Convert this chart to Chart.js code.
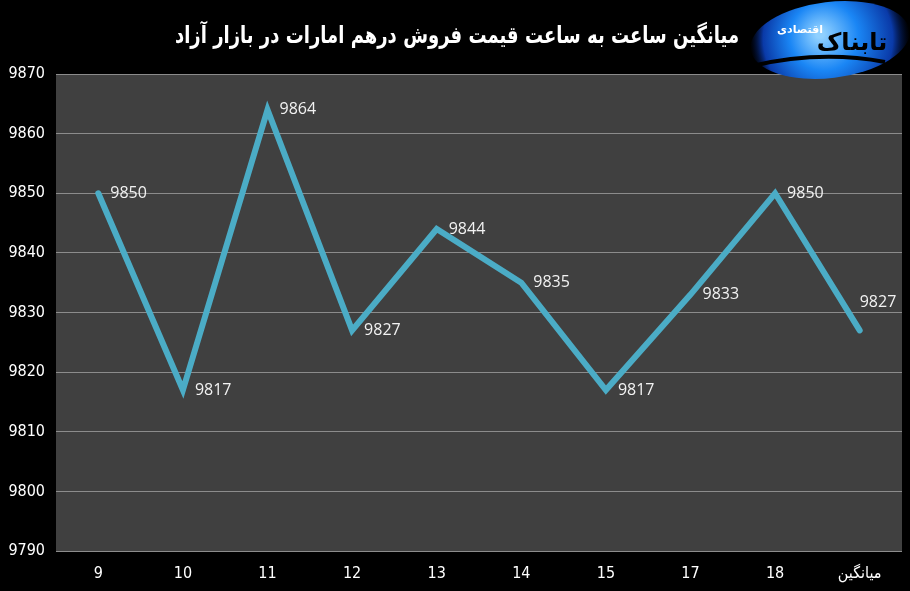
<!DOCTYPE html>
<html>
<head>
<meta charset="utf-8">
<script src="https://cdn.jsdelivr.net/npm/chart.js@4/dist/chart.umd.min.js"></script>
<style>
  html, body { margin: 0; padding: 0; background: #000; }
  #wrap { width: 910px; height: 591px; }
</style>
</head>
<body>
<div id="wrap"><canvas id="graph_dirham"></canvas></div>
<script>
// داده ها
const saat = ['9', '10', '11', '12', '13', '14', '15', '17', '18', 'میانگین'];
const gheymat = [9850, 9817, 9864, 9827, 9844, 9835, 9817, 9833, 9850, 9827];
const tick_min = 9790;
const tick_max = 9870;
const tick_step = 10;
const onvan = 'میانگین ساعت به ساعت قیمت فروش درهم امارات در بازار آزاد';

const fontNarrow = "'DejaVu Sans Condensed', 'Liberation Sans Narrow', sans-serif";

// زمینه خاکستری ناحیه نمودار
const zamine = {
  id: 'zamine',
  beforeDraw(chart) {
    const { ctx, chartArea: a } = chart;
    ctx.save();
    ctx.fillStyle = '#404040';
    ctx.fillRect(a.left, a.top, a.right - a.left, a.bottom - a.top);
    ctx.restore();
  }
};

// برچسب مقدارها کنار نقطه ها
const barchasb = {
  id: 'barchasb',
  afterDatasetsDraw(chart) {
    const ctx = chart.ctx;
    const meta = chart.getDatasetMeta(0);
    ctx.save();
    ctx.font = "16px 'Open Sans', 'Noto Sans', sans-serif";
    ctx.fillStyle = '#f2f2f2';
    ctx.textAlign = 'left';
    ctx.textBaseline = 'middle';
    meta.data.forEach((p, i) => {
      if (i === meta.data.length - 1) {
        // آخری بالای نقطه
        ctx.fillText(String(gheymat[i]), p.x, p.y - 28);
      } else {
        ctx.fillText(String(gheymat[i]), p.x + 12, p.y);
      }
    });
    ctx.restore();
  }
};

// عنوان و لوگو
const sarbarg = {
  id: 'sarbarg',
  afterDraw(chart) {
    const ctx = chart.ctx;
    ctx.save();
    // لوگو
    const cx = 830, cy = 40;
    const g = ctx.createRadialGradient(cx - 10, cy - 6, 4, cx, cy, 80);
    g.addColorStop(0, '#8fd0ff');
    g.addColorStop(0.4, '#1a86f5');
    g.addColorStop(0.8, '#0a3aa8');
    g.addColorStop(1, 'rgba(0,20,80,0)');
    ctx.fillStyle = g;
    ctx.beginPath();
    ctx.ellipse(cx, cy, 80, 38, -0.12, 0, Math.PI * 2);
    ctx.fill();
    ctx.strokeStyle = '#000';
    ctx.lineWidth = 4;
    ctx.beginPath();
    ctx.moveTo(752, 66);
    ctx.quadraticCurveTo(820, 50, 885, 62);
    ctx.stroke();
    ctx.fillStyle = '#000';
    ctx.font = "bold 24px 'DejaVu Sans', sans-serif";
    ctx.textAlign = 'center';
    ctx.textBaseline = 'middle';
    ctx.fillText('تابناک', 852, 44);
    ctx.fillStyle = '#fff';
    ctx.font = "bold 11px 'DejaVu Sans', sans-serif";
    ctx.fillText('اقتصادی', 800, 30);
    // عنوان
    ctx.fillStyle = '#fff';
    ctx.font = "bold 18px 'DejaVu Sans', sans-serif";
    ctx.textAlign = 'center';
    ctx.translate(457, 37);
    ctx.scale(1, 1.3);
    ctx.fillText(onvan, 0, 0);
    ctx.restore();
  }
};

const ctx = document.getElementById('graph_dirham').getContext('2d');
const myChart = new Chart(ctx, {
  type: 'line',
  data: {
    labels: saat,
    datasets: [{
      data: gheymat,
      borderColor: '#4bacc6',
      borderWidth: 6,
      borderCapStyle: 'round',
      borderJoinStyle: 'miter',
      pointRadius: 0,
      tension: 0,
      fill: false
    }]
  },
  options: {
    responsive: true,
    maintainAspectRatio: false,
    animation: false,
    layout: { padding: { top: 74, right: 8, left: 0, bottom: 0 } },
    plugins: {
      legend: { display: false },
      tooltip: { enabled: false },
      title: { display: false }
    },
    scales: {
      x: {
        offset: true,
        grid: { display: false, drawTicks: false },
        border: { display: false },
        ticks: {
          color: '#ffffff',
          font: { family: fontNarrow, size: 16 },
          padding: 13,
          maxRotation: 0
        },
        afterFit(s) { s.height = 40; }
      },
      y: {
        min: tick_min,
        max: tick_max,
        grid: { color: '#8c8c8c', lineWidth: 1, drawTicks: false },
        border: { display: false },
        ticks: {
          stepSize: tick_step,
          color: '#ffffff',
          font: { family: fontNarrow, size: 16 },
          padding: 11,
          callback: (v) => String(v)
        },
        afterFit(s) { s.width = 56; }
      }
    }
  },
  plugins: [zamine, barchasb, sarbarg]
});
</script>
</body>
</html>
